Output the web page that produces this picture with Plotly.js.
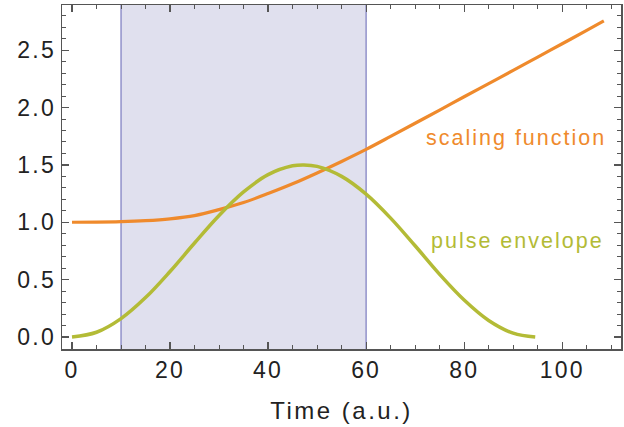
<!DOCTYPE html>
<html>
<head>
<meta charset="utf-8">
<script src="https://cdn.plot.ly/plotly-3.0.1.min.js"></script>
<style>
html,body{margin:0;padding:0;background:#fff;}
#chart{width:624px;height:427px;}
.xtick text, .ytick text { letter-spacing: 2.2px; }
.annotation-text { letter-spacing: 2px; }
.g-xtitle text { letter-spacing: 2.5px; }
</style>
</head>
<body>
<div id="chart"></div>
<script>
// Data
var scalingTime  = [0, 5, 10, 15, 20, 25, 30, 35, 40, 45, 50, 55, 60, 65, 70, 75, 80, 85, 90, 95, 100, 105, 108.5];
var scalingValue = [1.000, 1.001, 1.005, 1.014, 1.030, 1.058, 1.110, 1.172, 1.250, 1.335, 1.430, 1.530, 1.635, 1.748, 1.863, 1.978, 2.094, 2.209, 2.324, 2.440, 2.556, 2.672, 2.755];

var pulseTime  = [0, 5, 10, 15, 20, 25, 30, 35, 40, 45, 47.3, 50, 55, 60, 65, 70, 75, 80, 85, 90, 94.5];
var pulseValue = [0.000, 0.041, 0.160, 0.343, 0.571, 0.819, 1.059, 1.264, 1.415, 1.492, 1.500, 1.487, 1.400, 1.245, 1.036, 0.795, 0.546, 0.322, 0.144, 0.033, 0.000];

var shadedWindow = [10, 60];

var xTickValues = [0, 20, 40, 60, 80, 100];
var xTickLabels = ["0", "20", "40", "60", "80", "100"];
var yTickValues = [0, 0.5, 1.0, 1.5, 2.0, 2.5];
var yTickLabels = ["0.0", "0.5", "1.0", "1.5", "2.0", "2.5"];

var seriesNames = ["scaling function", "pulse envelope"];
var labelPositions = [[90.6, 1.735], [90.8, 0.837]];

var orange = "#ef8a2c";
var green = "#b3bb36";
var fontFam = "Liberation Sans, Arial, Helvetica, sans-serif";

var traces = [
  {x: scalingTime, y: scalingValue, mode: "lines", line: {color: orange, width: 3.2, shape: "spline"}, name: seriesNames[0], hoverinfo: "skip"},
  {x: pulseTime, y: pulseValue, mode: "lines", line: {color: green, width: 3.5, shape: "spline"}, name: seriesNames[1], hoverinfo: "skip"}
];

var axisCommon = {
  showgrid: false, zeroline: false, showline: true, linecolor: "#555", linewidth: 1.5,
  mirror: "ticks", ticks: "inside", ticklen: 7, tickwidth: 1.2, tickcolor: "#555",
  tickfont: {family: fontFam, size: 23, color: "#222"}
};

var layout = {
  width: 624, height: 427,
  margin: {l: 62, r: 3, t: 5, b: 78},
  paper_bgcolor: "#fff", plot_bgcolor: "#fff",
  showlegend: false,
  xaxis: Object.assign({}, axisCommon, {
    range: [-2.04, 112.0],
    tickvals: xTickValues, ticktext: xTickLabels,
    minor: {ticks: "inside", ticklen: 4, dtick: 5, tick0: 0, tickcolor: "#555", tickwidth: 1},
    ticklabelstandoff: 0,
    title: {text: "Time (a.u.)", font: {family: fontFam, size: 24, color: "#222"}, standoff: 20}
  }),
  yaxis: Object.assign({}, axisCommon, {
    range: [-0.105, 2.894],
    tickvals: yTickValues, ticktext: yTickLabels,
    minor: {ticks: "inside", ticklen: 4, dtick: 0.1, tick0: 0, tickcolor: "#555", tickwidth: 1},
    ticklabelstandoff: 0
  }),
  shapes: [
    {type: "rect", xref: "x", yref: "paper", x0: shadedWindow[0], x1: shadedWindow[1], y0: 0, y1: 1,
     fillcolor: "#e0e0ee", line: {width: 0}, layer: "below"},
    {type: "line", xref: "x", yref: "paper", x0: shadedWindow[0], x1: shadedWindow[0], y0: 0, y1: 1,
     line: {color: "#7b7bbf", width: 1.2}, layer: "below"},
    {type: "line", xref: "x", yref: "paper", x0: shadedWindow[1], x1: shadedWindow[1], y0: 0, y1: 1,
     line: {color: "#7b7bbf", width: 1.2}, layer: "below"}
  ],
  annotations: [
    {x: labelPositions[0][0], y: labelPositions[0][1], xref: "x", yref: "y", text: seriesNames[0], showarrow: false,
     font: {family: fontFam, size: 21.5, color: orange}},
    {x: labelPositions[1][0], y: labelPositions[1][1], xref: "x", yref: "y", text: seriesNames[1], showarrow: false,
     font: {family: fontFam, size: 21.5, color: green}}
  ]
};

Plotly.newPlot("chart", traces, layout, {staticPlot: true, displayModeBar: false});
</script>
</body>
</html>
